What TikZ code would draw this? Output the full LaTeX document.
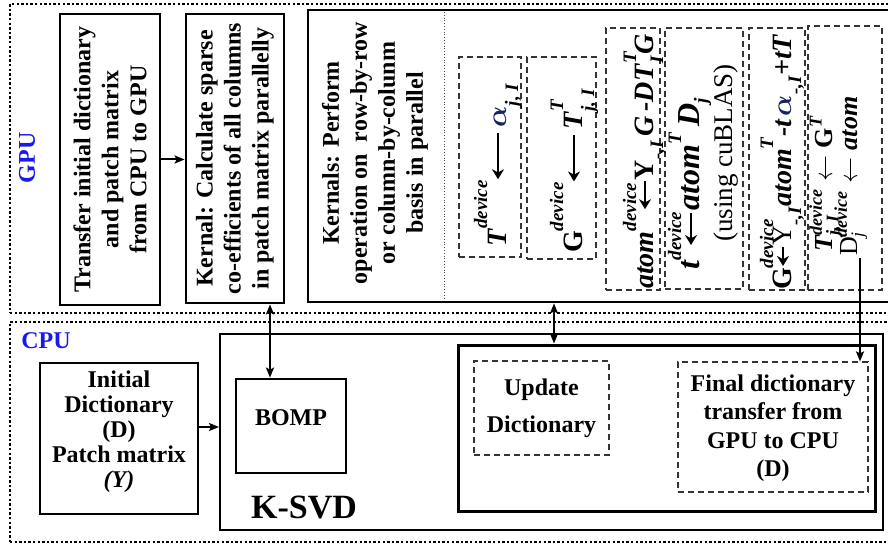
\RequirePackage{fix-cm}
\documentclass[tikz,border=0pt]{standalone}
\usepackage{mathtools}
\usepackage{bm}
\usepackage{fontspec}
\setmainfont{Liberation Serif}
\usetikzlibrary{arrows.meta}
\DeclareMathSizes{28}{28}{19}{14}
\DeclareMathSizes{26}{26}{18}{13}
\newcommand\bfit[1]{\textbf{\textit{#1}}}
% raised and lowered script text
\newcommand\sps[2][17pt]{\raisebox{#1}{\fontsize{19}{19}\selectfont\bfit{#2}}}
\newcommand\sbs[2][-10pt]{\raisebox{#1}{\fontsize{19}{19}\selectfont\bfit{#2}}}
% bold left arrow of a given length, sitting on the math axis
\newcommand\larr[1]{\tikz[reset cm,baseline=-8pt]\draw[line width=2.1pt,{Stealth[length=10pt,width=12pt]}-] (0pt,0pt) -- (#1,0pt);}
\definecolor{labelblue}{RGB}{25,25,235}
\definecolor{alphacol}{RGB}{25,35,95}
\newcommand\alp{\textcolor{alphacol}{$\boldsymbol{\alpha}$}}

\begin{document}
\begin{tikzpicture}[x=1pt,y=-1pt,
  region/.style={draw, line width=2.4pt, dash pattern=on 2.4pt off 2.2pt, inner sep=0pt},
  solidbox/.style={draw, line width=2.8pt, inner sep=0pt},
  thinbox/.style={draw, line width=2pt, inner sep=0pt},
  dashbox/.style={draw=black!80, line width=1.2pt, dash pattern=on 6pt off 4pt, inner sep=0pt},
  lbl/.style={font=\fontsize{24}{28}\selectfont\bfseries, align=center, inner sep=0pt},
  steplbl/.style={font=\fontsize{28}{28}\selectfont, inner sep=0pt, rotate=90, anchor=base west},
  sidelbl/.style={font=\fontsize{24}{28}\selectfont\bfseries, text=labelblue, inner sep=0pt},
  tip/.tip={Stealth[length=10pt,width=8pt,inset=2pt]},
  conn/.style={line width=2pt, -tip},
  biconn/.style={line width=2pt, tip-tip}]
\clip (0,0) rectangle (888,545);

% ---------------- GPU side ----------------
\node[region, minimum width=885pt, minimum height=309pt] (gpu) at (452.5,158.5) {};
\node[sidelbl, rotate=90] (gpulbl) at (27,158) {GPU};

\node[solidbox, minimum width=100pt, minimum height=291pt] (transfer) at (110,159.5) {};
\node[lbl, rotate=90] (transfertxt) at (transfer) {Transfer initial dictionary\\and patch matrix\\from CPU to GPU};

\node[solidbox, minimum width=98pt, minimum height=289pt] (sparse) at (235,158.5) {};
\node[lbl, rotate=90] (sparsetxt) at (sparse) {Kernal: Calculate sparse\\co-efficients of all columns\\in patch matrix parallelly};

\node[solidbox, minimum width=592pt, minimum height=292pt] (kern) at (604,156) {};
\node[lbl, rotate=90] (kerntxt) at (375,153) {Kernals: Perform\\operation on\ \ row-by-row\\or column-by-colunm\\basis in parallel};
\coordinate (septop) at (444,12);
\coordinate (sepbot) at (444,300);
\draw[black!70, line width=0.8pt, dotted] (septop) -- (sepbot);

% kernel steps
\node[dashbox, minimum width=62pt, minimum height=200pt] (stepa) at (490,157) {};
\node[dashbox, minimum width=69pt, minimum height=202pt] (stepb) at (561.5,158) {};
\node[dashbox, minimum width=54pt, minimum height=262pt] (stepc) at (633,159) {};
\node[dashbox, minimum width=78pt, minimum height=261pt] (stepd) at (704,158.5) {};
\node[dashbox, minimum width=56pt, minimum height=262pt] (stepe) at (777,159) {};
\node[dashbox, minimum width=74pt, minimum height=264pt] (stepf) at (845,158) {};

\node[steplbl] (stepatxt) at (506,247)
  {\bfit{T}\sps[19pt]{device}\larr{46pt}\,\alp\sbs[-12pt]{j, I}};
\node[steplbl] (stepbtxt) at (582,253)
  {\textbf{G}\sps[19pt]{device}\larr{46pt}\,\bfit{T}\rlap{\sps[19pt]{T}}\sbs[-12pt]{j, I}};
\node[steplbl] (stepctxt) at (653,289)
  {\bfit{atom}\rlap{\sps{device}}\hspace{21pt}\larr{28pt}\textbf{Y}\sbs{-,I}\,\bfit{G}\,\bfit{-DT}\rlap{\sps{T}}\sbs{I}\hspace{1pt}\bfit{G}};
\node[steplbl, font=\fontsize{32}{32}\selectfont] (stepdtxt) at (699,270)
  {\bfit{t}\rlap{\sps[18pt]{device}}\hspace{14pt}\larr{32pt}\hspace{2pt}\bfit{atom}\sps[18pt]{T}\,\bfit{D}\sbs[-8pt]{j}};
\node[font=\fontsize{27}{28}\selectfont, inner sep=0pt, rotate=90] (stepdnote) at (726,153) {(using cuBLAS)};
\node[steplbl] (stepetxt) at (791,290)
  {\textbf{G}\rlap{\sps[18pt]{device}}\hspace{1pt}\larr{19pt}Y\sbs{-,I}\bfit{atom}\sps[18pt]{T}\bfit{-t}\hspace{3pt}\alp\sbs{-,I}\bfit{+tT}};
\node[steplbl, font=\fontsize{26}{26}\selectfont] (stepftxt) at (832,252)
  {$\bfit{T}^{\bfit{device}}_{\bfit{j,\,I}}\leftarrow\textbf{G}^{\bfit{T}}$};
\node[steplbl, font=\fontsize{26}{26}\selectfont] (stepfdtxt) at (857,256)
  {$\textrm{D}^{\bfit{device}}_{\textit{j}}\leftarrow\bfit{atom}$};
\coordinate (djfoot) at (860,258);

% ---------------- CPU side ----------------
\node[region, minimum width=885pt, minimum height=220pt] (cpu) at (452.5,432) {};
\node[sidelbl] (cpulbl) at (46,341) {CPU};

\node[solidbox, minimum width=158pt, minimum height=151pt] (init) at (119,438.5) {};
\node[lbl, font=\fontsize{24}{25}\selectfont\bfseries] (inittxt) at (119,432)
  {Initial\\Dictionary\\(D)\\Patch matrix\\\textit{(Y)}};

\node[thinbox, minimum width=663pt, minimum height=196pt] (ksvd) at (551.5,432) {};
\node[lbl, font=\fontsize{34}{36}\selectfont\bfseries] (ksvdtxt) at (304,507) {K-SVD};

\node[solidbox, minimum width=110pt, minimum height=94pt] (bomp) at (291,426) {};
\node[lbl] (bomptxt) at (291,418) {BOMP};

\node[draw, line width=3pt, inner sep=0pt, minimum width=417pt, minimum height=166pt] (inner) at (666.5,428) {};
\node[dashbox, minimum width=135pt, minimum height=94pt] (update) at (541.5,408) {};
\node[lbl, font=\fontsize{24}{37}\selectfont\bfseries] (updatetxt) at (update) {Update\\Dictionary};
\node[dashbox, minimum width=190pt, minimum height=130pt] (final) at (773,427) {};
\node[lbl, font=\fontsize{24}{28.5}\selectfont\bfseries] (finaltxt) at (773,428)
  {Final dictionary\\transfer from\\GPU to CPU\\(D)};

% ---------------- connectors ----------------
\draw[conn] (transfer.east) -- (transfer.east -| sparse.west);
\draw[biconn] ([xshift=35pt]sparse.south) -- ([xshift=-21pt]bomp.north);
\draw[biconn] ([xshift=-50pt]kern.south) -- ([xshift=-112.5pt]inner.north);
\draw[conn] (djfoot) -- (djfoot |- final.north);
\draw[conn] ([yshift=11.5pt]init.east) -- ([yshift=11.5pt]init.east -| ksvd.west);
\end{tikzpicture}
\end{document}
